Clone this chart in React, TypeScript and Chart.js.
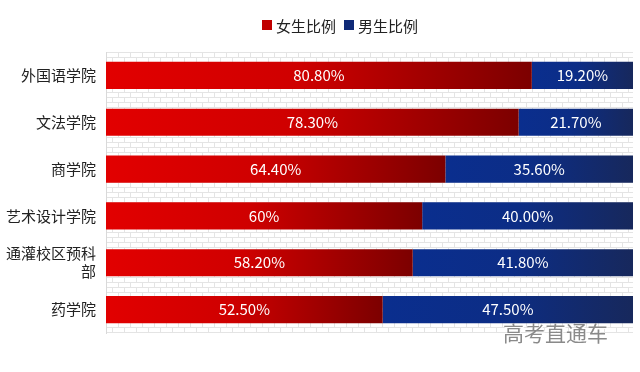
import React, { useEffect, useRef } from "react";
import { Chart, registerables } from "chart.js";

Chart.register(...registerables);

const categories = ["外国语学院", "文法学院", "商学院", "艺术设计学院", ["通灌校区预科", "部"], "药学院"];
const femaleValues = [80.8, 78.3, 64.4, 60, 58.2, 52.5];
const maleValues = [19.2, 21.7, 35.6, 40.0, 41.8, 47.5];
const femaleLabels = ["80.80%", "78.30%", "64.40%", "60%", "58.20%", "52.50%"];
const maleLabels = ["19.20%", "21.70%", "35.60%", "40.00%", "41.80%", "47.50%"];
const seriesNames = ["女生比例", "男生比例"];
const legendColors = ["#c00000", "#0f2a78"];
const femaleStops = ["#e20000", "#cf0000", "#7c0000"];
const maleStops = ["#0a2e8e", "#0c2d86", "#17285c"];

const FONT = "'Noto Sans CJK SC', 'Noto Sans', sans-serif";

function makeGradient(ctx: any, datasetIndex: number, solid: string, stops: string[]) {
  const chart = ctx.chart;
  const { chartArea, scales } = chart;
  if (!chartArea || ctx.type !== "data") return solid;
  const i = ctx.dataIndex;
  const start = datasetIndex === 0 ? 0 : femaleValues[i];
  const end = datasetIndex === 0 ? femaleValues[i] : femaleValues[i] + maleValues[i];
  const x0 = scales.x.getPixelForValue(start);
  const x1 = scales.x.getPixelForValue(end);
  const g = chart.ctx.createLinearGradient(x0, 0, x1, 0);
  g.addColorStop(0, stops[0]);
  g.addColorStop(0.45, stops[1]);
  g.addColorStop(1, stops[2]);
  return g;
}

const brickPlugin = {
  id: "brick",
  beforeDraw(chart: any) {
    const { ctx, chartArea } = chart;
    if (!chartArea) return;
    const pc = document.createElement("canvas");
    pc.width = 12;
    pc.height = 10;
    const p = pc.getContext("2d")!;
    p.fillStyle = "#ffffff";
    p.fillRect(0, 0, 12, 10);
    p.fillStyle = "#e4e4e4";
    p.fillRect(0, 0, 12, 1);
    p.fillRect(0, 5, 12, 1);
    p.fillRect(0, 0, 1, 5);
    p.fillRect(6, 5, 1, 5);
    const pat = ctx.createPattern(pc, "repeat");
    ctx.save();
    ctx.translate(chartArea.left, chartArea.top);
    ctx.fillStyle = pat;
    ctx.fillRect(0, 0, chartArea.right - chartArea.left, chartArea.bottom - chartArea.top);
    ctx.restore();
  },
};

const customLegend = {
  id: "customLegend",
  afterDraw(chart: any) {
    const { ctx } = chart;
    ctx.save();
    ctx.font = `15px ${FONT}`;
    ctx.textBaseline = "middle";
    ctx.textAlign = "left";
    const box = 10, gap = 4, itemGap = 8;
    const widths = seriesNames.map((n) => box + gap + ctx.measureText(n).width);
    const total = widths.reduce((a, b) => a + b, 0) + itemGap * (seriesNames.length - 1);
    let x = 340 - total / 2;
    const y = 25;
    seriesNames.forEach((n, i) => {
      ctx.fillStyle = legendColors[i];
      ctx.fillRect(x, y - box / 2, box, box);
      ctx.fillStyle = "#222";
      ctx.fillText(n, x + box + gap, y + 1);
      x += widths[i] + itemGap;
    });
    ctx.restore();
  },
};

const labelPlugin = {
  id: "segLabels",
  afterDatasetsDraw(chart: any) {
    const { ctx } = chart;
    ctx.save();
    ctx.font = `15px ${FONT}`;
    ctx.fillStyle = "#ffffff";
    ctx.textAlign = "center";
    ctx.textBaseline = "middle";
    [femaleLabels, maleLabels].forEach((labels, di) => {
      const meta = chart.getDatasetMeta(di);
      meta.data.forEach((el: any, i: number) => {
        const cx = (el.x + el.base) / 2;
        ctx.fillText(labels[i], cx, el.y);
      });
    });
    ctx.restore();
  },
};

export default function App() {
  const ref = useRef<HTMLCanvasElement>(null);
  useEffect(() => {
    document.body.style.margin = "0";
    const chart = new Chart(ref.current!, {
      type: "bar",
      data: {
        labels: categories as any,
        datasets: [
          {
            label: seriesNames[0],
            data: femaleValues,
            backgroundColor: (c: any) => makeGradient(c, 0, legendColors[0], femaleStops),
            barPercentage: 0.58,
            categoryPercentage: 1,
          },
          {
            label: seriesNames[1],
            data: maleValues,
            backgroundColor: (c: any) => makeGradient(c, 1, legendColors[1], maleStops),
            barPercentage: 0.58,
            categoryPercentage: 1,
          },
        ],
      },
      options: {
        indexAxis: "y",
        animation: false,
        responsive: false,
        layout: { padding: { left: 0, right: 7, top: 52, bottom: 39 } },
        scales: {
          x: {
            stacked: true,
            min: 0,
            max: 100,
            display: false,
          },
          y: {
            stacked: true,
            grid: { display: false, drawTicks: false },
            border: { display: true, color: "#d9d9d9", width: 1 },
            ticks: { color: "#222", font: { size: 15, family: FONT }, padding: 10 },
            afterFit: (s: any) => {
              s.width = 106;
            },
          },
        },
        plugins: {
          tooltip: { enabled: false },
          legend: { display: false },
        },
      },
      plugins: [brickPlugin, labelPlugin, customLegend],
    });
    return () => chart.destroy();
  }, []);
  return (
    <div style={{ position: "relative", width: 640, height: 372, background: "#fff" }}>
      <canvas ref={ref} width={640} height={372} />
      <div
        style={{
          position: "absolute",
          left: 503,
          top: 319,
          fontSize: 21,
          fontFamily: FONT,
          color: "#8a8a8a",
          letterSpacing: 0,
          textShadow: "1px 1px 0 #ffffff",
          lineHeight: "26px",
        }}
      >
        高考直通车
      </div>
    </div>
  );
}
